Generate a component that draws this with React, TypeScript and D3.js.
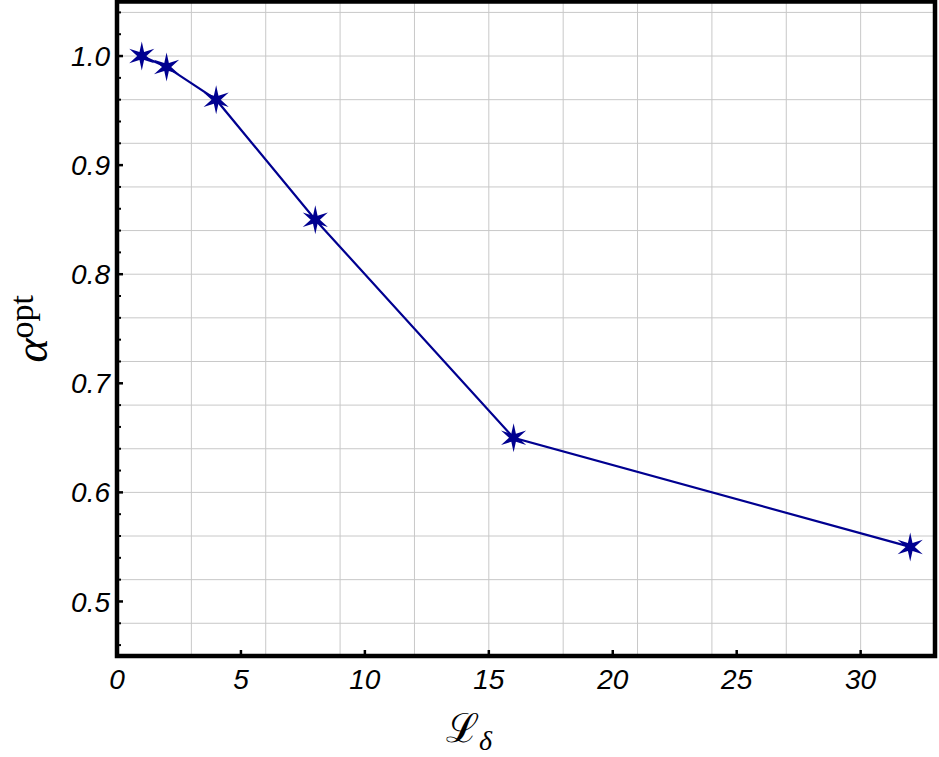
import React, { useEffect, useRef } from "react";
import * as d3 from "d3";

const xs = [1, 2, 4, 8, 16, 32];
const alphaOpt = [1.0, 0.99, 0.96, 0.85, 0.65, 0.55];
const xTicks = [0, 5, 10, 15, 20, 25, 30];
const yTicks = [0.5, 0.6, 0.7, 0.8, 0.9, 1.0];
const yMinor = [0.46, 0.48, 0.52, 0.54, 0.56, 0.58, 0.62, 0.64, 0.66, 0.68, 0.72, 0.74, 0.76, 0.78, 0.82, 0.84, 0.86, 0.88, 0.92, 0.94, 0.96, 0.98, 1.02, 1.04];
const xGrid = [3, 6, 9, 12, 15, 18, 21, 24, 27, 30];
const yGrid = [0.48, 0.52, 0.56, 0.6, 0.64, 0.68, 0.72, 0.76, 0.8, 0.84, 0.88, 0.92, 0.96, 1.0, 1.04];

const BLUE = "#000090";

function starPath(outer: number, inner: number) {
  // six points: vertical plus +-30 deg from horizontal
  const pts: [number, number][] = [];
  for (let i = 0; i < 12; i++) {
    const a = -Math.PI / 2 + (i * Math.PI) / 6;
    const r = i % 2 === 0 ? outer : inner;
    pts.push([r * Math.cos(a), r * Math.sin(a)]);
  }
  return "M" + pts.map(p => p.join(",")).join("L") + "Z";
}

export default function App() {
  const ref = useRef<SVGSVGElement>(null);

  useEffect(() => {
    const width = 939, height = 757;
    const left = 117, right = 935, top = 1.5, bottom = 656;

    const svg = d3.select(ref.current);
    svg.selectAll("*").remove();
    svg.attr("width", width).attr("height", height);

    svg.append("rect").attr("width", width).attr("height", height).attr("fill", "#fff");

    const x = d3.scaleLinear().domain([0, 33]).range([left, right]);
    const y = d3.scaleLinear().domain([0.45, 1.05]).range([bottom, top]);

    // grid
    svg.append("g").selectAll("line")
      .data(xGrid).enter().append("line")
      .attr("x1", d => x(d)).attr("x2", d => x(d))
      .attr("y1", top).attr("y2", bottom)
      .attr("stroke", "#c8c8c8").attr("stroke-width", 1);
    svg.append("g").selectAll("line")
      .data(yGrid).enter().append("line")
      .attr("x1", left).attr("x2", right)
      .attr("y1", d => y(d)).attr("y2", d => y(d))
      .attr("stroke", "#c8c8c8").attr("stroke-width", 1);

    // ticks (inside)
    svg.append("g").selectAll("line")
      .data(yTicks).enter().append("line")
      .attr("x1", left).attr("x2", left + 6)
      .attr("y1", d => y(d)).attr("y2", d => y(d))
      .attr("stroke", "#000").attr("stroke-width", 2.5);
    svg.append("g").selectAll("line")
      .data(yMinor).enter().append("line")
      .attr("x1", left).attr("x2", left + 4)
      .attr("y1", d => y(d)).attr("y2", d => y(d))
      .attr("stroke", "#000").attr("stroke-width", 2);
    svg.append("g").selectAll("line")
      .data(xTicks.slice(1)).enter().append("line")
      .attr("x1", d => x(d)).attr("x2", d => x(d))
      .attr("y1", bottom).attr("y2", bottom - 6)
      .attr("stroke", "#000").attr("stroke-width", 2.5);

    // frame
    svg.append("rect")
      .attr("x", left).attr("y", top)
      .attr("width", right - left).attr("height", bottom - top)
      .attr("fill", "none").attr("stroke", "#000").attr("stroke-width", 4.5);

    // tick labels
    svg.append("g").selectAll("text")
      .data(yTicks).enter().append("text")
      .attr("x", left - 7).attr("y", d => y(d)).attr("dy", "0.36em")
      .attr("text-anchor", "end")
      .attr("font-family", "Liberation Sans, Arial, sans-serif")
      .attr("font-style", "italic").attr("font-size", 28)
      .text(d => d.toFixed(1));
    svg.append("g").selectAll("text")
      .data(xTicks).enter().append("text")
      .attr("x", d => x(d)).attr("y", 689)
      .attr("text-anchor", "middle")
      .attr("font-family", "Liberation Sans, Arial, sans-serif")
      .attr("font-style", "italic").attr("font-size", 28)
      .text(d => d);

    // data line
    const pts = xs.map((v, i) => [v, alphaOpt[i]] as [number, number]);
    const line = d3.line<[number, number]>().x(d => x(d[0])).y(d => y(d[1]));
    svg.append("path")
      .attr("d", line(pts))
      .attr("fill", "none").attr("stroke", BLUE).attr("stroke-width", 2.2);

    const star = starPath(14.5, 4.6);
    svg.append("g").selectAll("path")
      .data(pts).enter().append("path")
      .attr("transform", d => `translate(${x(d[0])},${y(d[1])})`)
      .attr("d", star)
      .attr("fill", BLUE);

    // axis titles
    const yl = svg.append("text")
      .attr("transform", `translate(47,${(top + bottom) / 2}) rotate(-90)`)
      .attr("text-anchor", "middle")
      .attr("font-family", "Liberation Serif, Times New Roman, serif");
    yl.append("tspan").attr("font-style", "italic").attr("font-size", 46).text("α");
    yl.append("tspan").attr("font-size", 34).attr("dy", -14).text("opt");

    const xl = svg.append("text")
      .attr("x", 469).attr("y", 742)
      .attr("text-anchor", "middle")
      .attr("font-family", "DejaVu Serif, serif");
    xl.append("tspan").attr("font-size", 40).text("ℒ");
    xl.append("tspan").attr("font-family", "Liberation Serif, serif")
      .attr("font-style", "italic").attr("font-size", 28).attr("dy", 8).text("δ");
  }, []);

  return (
    <svg ref={ref} style={{ position: "absolute", left: 0, top: 0, display: "block" }}></svg>
  );
}
